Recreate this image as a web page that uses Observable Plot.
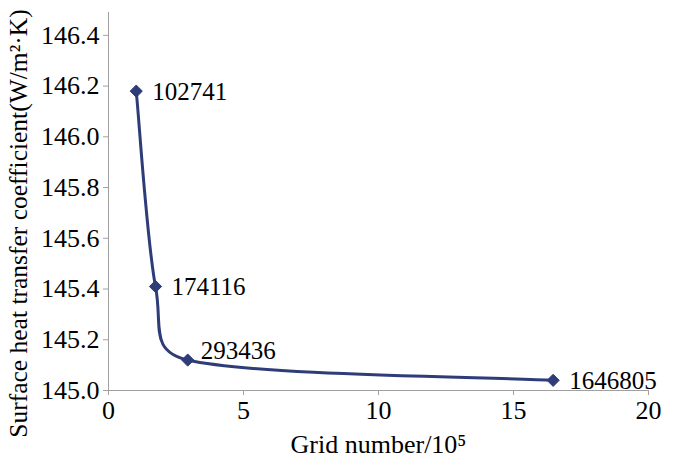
<!DOCTYPE html>
<html>
<head>
<meta charset="utf-8">
<script src="https://cdn.jsdelivr.net/npm/d3@7"></script>
<script src="https://cdn.jsdelivr.net/npm/@observablehq/plot@0.6"></script>
<style>
  html, body { margin: 0; padding: 0; background: #fff; }
  #chart svg, #chart svg text { font-family: "Liberation Serif", "Times New Roman", serif !important; }
</style>
</head>
<body>
<div id="chart"></div>
<script>
const gridNumbers = [102741, 174116, 293436, 1646805];
const heatCoeff = [146.18, 145.41, 145.12, 145.04];
const xTicks = [0, 5, 10, 15, 20];
const yTicks = [145.0, 145.2, 145.4, 145.6, 145.8, 146.0, 146.2, 146.4];
const pointLabels = ["102741", "174116", "293436", "1646805"];
const xTitle = "Grid number/10⁵";
const yTitle = "Surface heat transfer coefficient(W/m²·K)";

const data = gridNumbers.map((g, i) => ({x: g / 1e5, y: heatCoeff[i], label: pointLabels[i]}));
const color = "#2e3d78";

// Spreadsheet-style smoothed line (Bezier with 1/6 tension, arms clamped to half a segment)
class SmoothCurve {
  constructor(context) { this._context = context; }
  areaStart() {}
  areaEnd() {}
  lineStart() { this._pts = []; }
  point(x, y) { this._pts.push([+x, +y]); }
  lineEnd() {
    const p = this._pts, n = p.length, c = this._context;
    if (!n) return;
    c.moveTo(p[0][0], p[0][1]);
    const dist = (a, b) => Math.hypot(b[0] - a[0], b[1] - a[1]);
    for (let i = 0; i < n - 1; i++) {
      const P0 = p[Math.max(i - 1, 0)], P1 = p[i], P2 = p[i + 1], P3 = p[Math.min(i + 2, n - 1)];
      const d12 = dist(P1, P2), d02 = dist(P0, P2), d13 = dist(P1, P3);
      let f0 = 1 / 6, f1 = 1 / 6;
      if (d02 / 6 >= d12 / 2 && d02 > 0) f0 = d12 / 2 / d02;
      if (d13 / 6 >= d12 / 2 && d13 > 0) f1 = d12 / 2 / d13;
      c.bezierCurveTo(
        P1[0] + f0 * (P2[0] - P0[0]), P1[1] + f0 * (P2[1] - P0[1]),
        P2[0] - f1 * (P3[0] - P1[0]), P2[1] - f1 * (P3[1] - P1[1]),
        P2[0], P2[1]
      );
    }
  }
}
const smoothCurve = ctx => new SmoothCurve(ctx);

const chart = Plot.plot({
  width: 700,
  height: 461,
  marginLeft: 108,
  marginRight: 52,
  marginTop: 12,
  marginBottom: 71,
  style: {fontFamily: "'Liberation Serif', 'Times New Roman', serif", fontSize: "26px", background: "#fff", color: "black"},
  x: {domain: [0, 20]},
  y: {domain: [145.0, 146.49]},
  marks: [
    Plot.ruleX([0], {stroke: "#a0a0a0", strokeWidth: 1}),
    Plot.ruleY([145.0], {stroke: "#a0a0a0", strokeWidth: 1}),
    Plot.axisX({ticks: xTicks, tickFormat: d => String(d), tickSize: 5, tickPadding: 5, stroke: "#a0a0a0", fill: "black",
      label: xTitle, labelAnchor: "center", labelArrow: "none", labelOffset: 62, fontSize: 26}),
    Plot.axisY({ticks: yTicks, tickFormat: d => d.toFixed(1), tickSize: 5, tickPadding: 4, stroke: "#a0a0a0", fill: "black",
      label: null, fontSize: 26}),
    Plot.text([yTitle], {frameAnchor: "left", text: d => d, rotate: -90, dx: -90, dy: 22, textAnchor: "middle", fontSize: 25.5, fill: "black"}),
    Plot.line(data, {x: "x", y: "y", curve: smoothCurve, stroke: color, strokeWidth: 3}),
    Plot.dot(data, {x: "x", y: "y", symbol: "diamond2", r: 5.5, fill: color, stroke: color, strokeWidth: 1}),
    Plot.text(data.filter(d => d.label !== "293436"), {x: "x", y: "y", text: "label", textAnchor: "start", dx: 16, dy: 1, fontSize: 25, fill: "black"}),
    Plot.text(data.filter(d => d.label === "293436"), {x: "x", y: "y", text: "label", textAnchor: "start", dx: 13, dy: -9, fontSize: 25, fill: "black"})
  ]
});
document.getElementById("chart").appendChild(chart);
</script>
</body>
</html>
